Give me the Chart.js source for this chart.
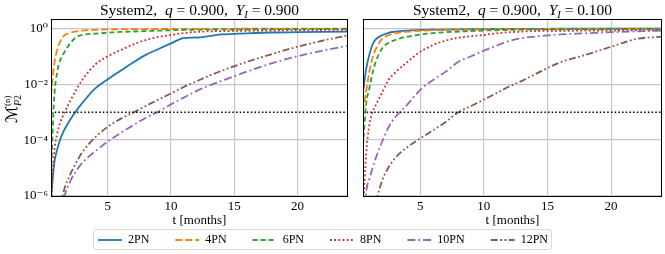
<!DOCTYPE html>
<html>
<head>
<meta charset="utf-8">
<script src="https://cdn.jsdelivr.net/npm/chart.js@4.4.0/dist/chart.umd.min.js"></script>
<style>
  html, body { margin: 0; padding: 0; background: #fff; }
  #page { position: relative; width: 665px; height: 254px; overflow: hidden; background: #fff; }
  .box { position: absolute; top: 0; height: 228px; }
  #leftBox { left: 0; width: 352px; }
  #rightBox { left: 352px; width: 313px; }
  #legendBox { position: absolute; left: 93px; top: 229px; width: 459px; height: 21px; box-sizing: border-box;
    border: 1px solid #dadada; border-radius: 3px; overflow: hidden; background: #fff; }
  #legendInner { position: absolute; left: -71.5px; top: -22.5px; width: 600px; height: 80px; }
</style>
</head>
<body>
<div id="page">
  <div class="box" id="leftBox"><canvas id="leftChart"></canvas></div>
  <div class="box" id="rightBox"><canvas id="rightChart"></canvas></div>
  <div id="legendBox"><div id="legendInner"><canvas id="legendChart"></canvas></div></div>
</div>
<script>
// time grid (months) and log10 of M_P2
const months = [0.5, 0.75, 1, 1.25, 1.5, 2, 2.5, 3, 4, 5, 6, 7, 8, 9, 10, 11, 12, 13, 14, 16, 18, 20, 22, 24];

// left panel: q = 0.900, Y_I = 0.900
const left2PN  = [-6.1, -4.85, -4.32, -3.95, -3.68, -3.28, -2.95, -2.66, -2.15, -1.82, -1.52, -1.22, -0.95, -0.74, -0.54, -0.35, -0.33, -0.28, -0.22, -0.18, -0.15, -0.14, -0.13, -0.12];
const left4PN  = [-2.4, -1.3, -0.75, -0.45, -0.28, -0.16, -0.11, -0.08, -0.06, -0.04, -0.035, -0.03, -0.03, -0.025, -0.025, -0.02, -0.02, -0.02, -0.02, -0.015, -0.015, -0.01, -0.01, -0.01];
const left6PN  = [-5.2, -2.5, -1.55, -1.12, -0.9, -0.55, -0.32, -0.24, -0.19, -0.16, -0.13, -0.115, -0.1, -0.085, -0.07, -0.06, -0.05, -0.045, -0.04, -0.035, -0.03, -0.025, -0.02, -0.02];
const left8PN  = [-6.3, -4.45, -3.75, -3.35, -3.08, -2.62, -2.2, -1.83, -1.3, -1.0, -0.78, -0.58, -0.42, -0.31, -0.24, -0.17, -0.13, -0.11, -0.1, -0.09, -0.08, -0.07, -0.06, -0.05];
const left10PN = [null, null, null, -7.2, -6.2, -5.5, -5.1, -4.8, -4.4, -4.05, -3.75, -3.47, -3.2, -2.98, -2.72, -2.48, -2.25, -2.05, -1.88, -1.55, -1.25, -1.0, -0.8, -0.62];
const left12PN = [null, null, null, -6.5, -5.85, -5.25, -4.8, -4.42, -3.9, -3.52, -3.24, -3.02, -2.78, -2.55, -2.33, -2.1, -1.9, -1.7, -1.52, -1.2, -0.92, -0.66, -0.44, -0.25];

// right panel: q = 0.900, Y_I = 0.100
const right2PN  = [-2.3, -1.45, -0.95, -0.58, -0.4, -0.25, -0.16, -0.12, -0.08, -0.06, -0.05, -0.045, -0.04, -0.035, -0.03, -0.025, -0.02, -0.02, -0.02, -0.015, -0.015, -0.01, -0.01, -0.01];
const right4PN  = [-3.0, -2.25, -1.56, -1.05, -0.75, -0.38, -0.25, -0.18, -0.12, -0.09, -0.07, -0.06, -0.05, -0.045, -0.04, -0.035, -0.03, -0.03, -0.025, -0.02, -0.02, -0.015, -0.015, -0.01];
const right6PN  = [-4.2, -2.7, -2.15, -1.6, -1.2, -0.72, -0.52, -0.42, -0.3, -0.22, -0.17, -0.14, -0.12, -0.1, -0.08, -0.07, -0.06, -0.05, -0.04, -0.035, -0.03, -0.025, -0.02, -0.02];
const right8PN  = [-6.5, -4.5, -3.45, -3.0, -2.75, -2.3, -1.85, -1.6, -1.2, -0.84, -0.6, -0.44, -0.34, -0.28, -0.24, -0.18, -0.14, -0.12, -0.1, -0.09, -0.085, -0.08, -0.075, -0.07];
const right10PN = [-7.5, -5.85, -5.4, -5.0, -4.65, -4.06, -3.55, -3.2, -2.72, -2.2, -1.85, -1.55, -1.2, -1.0, -0.8, -0.62, -0.45, -0.35, -0.3, -0.22, -0.18, -0.14, -0.11, -0.08];
const right12PN = [null, null, null, -7.0, -6.3, -5.45, -4.98, -4.65, -4.25, -3.94, -3.65, -3.35, -3.0, -2.78, -2.55, -2.32, -2.08, -1.88, -1.65, -1.22, -0.95, -0.66, -0.38, -0.3];

const seriesLabels = ["2PN", "4PN", "6PN", "8PN", "10PN", "12PN"];
const panelYI = ["0.900", "0.100"];
const panelQ = "0.900";
const threshold = 1e-3;
const xRange = [0.5, 24];
const xTickValues = [5, 10, 15, 20];
const yTickValues = [1e-6, 1e-4, 1e-2, 1];
const yTickLabels = ["10\u207B\u2076", "10\u207B\u2074", "10\u207B\u00B2", "10\u2070"];

// styles
const FONT = "'Liberation Serif', 'Times New Roman', 'DejaVu Serif', serif";
const seriesColors = ["#1f77b4", "#ff7f0e", "#2ca02c", "#d62728", "#9467bd", "#8c564b"];
const seriesDashes = [[], [7, 3], [5, 3], [1.8, 2.4], [8, 3, 1.8, 3], [7, 2.5, 1.8, 2.5, 1.8, 2.5]];
const gridColor = "#c8c8c8";

function toPoints(exps) {
  return months.map((t, i) => ({ x: t, y: exps[i] === null ? null : Math.pow(10, exps[i]) }));
}

// draws a run of text pieces (normal / italic / sub / sup) centred on cx
function drawRich(ctx, parts, cx, y) {
  let w = 0;
  parts.forEach(p => {
    ctx.font = (p.italic ? "italic " : "") + p.size + "px " + (p.family || FONT);
    p.w = ctx.measureText(p.text).width;
    if (!p.stack) w += p.w;
  });
  let x = cx - w / 2;
  let lastX = x;
  parts.forEach(p => {
    ctx.font = (p.italic ? "italic " : "") + p.size + "px " + (p.family || FONT);
    const px = p.stack ? lastX : x;
    ctx.fillText(p.text, px, y + (p.dy || 0));
    if (!p.stack) { lastX = x; x += p.w; }
  });
}

const framePlugin = {
  id: "frame",
  afterDraw(chart) {
    const { ctx, chartArea: a } = chart;
    ctx.save();
    ctx.strokeStyle = "#000";
    ctx.lineWidth = 1;
    ctx.strokeRect(Math.round(a.left) + 0.5, Math.round(a.top) + 0.5, Math.round(a.right - a.left) - 1, Math.round(a.bottom - a.top));
    ctx.restore();
  }
};

function titlePlugin(yI) {
  return {
    id: "panelTitle",
    afterDraw(chart) {
      const { ctx, chartArea: a } = chart;
      ctx.save();
      ctx.fillStyle = "#000";
      ctx.textBaseline = "alphabetic";
      ctx.textAlign = "left";
      drawRich(ctx, [
        { text: "System2,  ", size: 15.5 },
        { text: "q", size: 15.5, italic: true },
        { text: " = " + panelQ + ",  ", size: 15.5 },
        { text: "Y", size: 15.5, italic: true },
        { text: "I", size: 10.5, italic: true, dy: 3 },
        { text: " = " + yI, size: 15.5 }
      ], (a.left + a.right) / 2, 14.5);
      ctx.restore();
    }
  };
}

const yLabelPlugin = {
  id: "yLabel",
  afterDraw(chart) {
    const { ctx } = chart;
    ctx.save();
    ctx.fillStyle = "#000";
    ctx.textAlign = "left";
    ctx.translate(17, 109);
    ctx.rotate(-Math.PI / 2);
    drawRich(ctx, [
      { text: "\u2133", size: 16, family: "'DejaVu Serif', 'DejaVu Sans', serif" },
      { text: "P", size: 10, italic: true, dy: 3.5 },
      { text: "(n)", size: 9, dy: -7, stack: true },
      { text: "2", size: 10, dy: 3.5 }
    ], 0, 0);
    ctx.restore();
  }
};

function makePanel(canvasId, exps, yI, isLeft) {
  const datasets = seriesLabels.map((lab, i) => ({
    label: lab,
    data: toPoints(exps[i]),
    borderColor: seriesColors[i],
    borderDash: seriesDashes[i],
    borderWidth: 1.8,
    pointRadius: 0,
    fill: false,
    cubicInterpolationMode: "monotone",
    order: seriesLabels.length - i
  }));
  datasets.push({
    label: "threshold",
    data: [{ x: xRange[0], y: threshold }, { x: xRange[1], y: threshold }],
    borderColor: "#000",
    borderWidth: 1.5,
    borderDash: [1.5, 2.2],
    pointRadius: 0,
    fill: false,
    order: 0
  });

  const plugins = [framePlugin, titlePlugin(yI)];
  if (isLeft) plugins.push(yLabelPlugin);

  return new Chart(document.getElementById(canvasId), {
    type: "line",
    data: { datasets },
    plugins,
    options: {
      responsive: true,
      maintainAspectRatio: false,
      animation: false,
      layout: { padding: { top: 19, right: isLeft ? 4 : 3, left: 0, bottom: 0 } },
      plugins: { legend: { display: false }, tooltip: { enabled: false } },
      scales: {
        x: {
          type: "linear",
          min: xRange[0],
          max: xRange[1],
          afterBuildTicks: (s) => { s.ticks = xTickValues.map(v => ({ value: v })); },
          afterFit: (s) => { s.height = 32; },
          grid: { color: gridColor, lineWidth: 1.2, drawTicks: false },
          border: { display: false },
          ticks: {
            font: { family: FONT, size: 13 },
            color: "#000",
            padding: 3,
            maxRotation: 0,
            autoSkip: false,
            callback: (v) => String(v)
          },
          title: {
            display: true,
            text: "t [months]",
            font: { family: FONT, size: 13 },
            color: "#000",
            padding: { top: 0, bottom: 0 }
          }
        },
        y: {
          type: "logarithmic",
          min: 1e-6,
          max: 2.15,
          afterBuildTicks: (s) => { s.ticks = yTickValues.map(v => ({ value: v })); },
          afterFit: (s) => { s.width = isLeft ? 51 : 11; },
          grid: { color: gridColor, lineWidth: 1.2, drawTicks: false },
          border: { display: false },
          ticks: {
            display: isLeft,
            font: { family: FONT, size: 13 },
            color: "#000",
            padding: 3,
            autoSkip: false,
            callback: (v, i) => yTickLabels[i]
          }
        }
      }
    }
  });
}

makePanel("leftChart", [left2PN, left4PN, left6PN, left8PN, left10PN, left12PN], panelYI[0], true);
makePanel("rightChart", [right2PN, right4PN, right6PN, right8PN, right10PN, right12PN], panelYI[1], false);

// shared legend under both panels
new Chart(document.getElementById("legendChart"), {
  type: "line",
  data: {
    datasets: seriesLabels.map((lab, i) => ({
      label: lab,
      data: [],
      borderColor: seriesColors[i],
      backgroundColor: seriesColors[i],
      borderDash: seriesDashes[i],
      borderWidth: 1.8
    }))
  },
  options: {
    responsive: true,
    maintainAspectRatio: false,
    animation: false,
    layout: { padding: 0 },
    scales: { x: { display: false }, y: { display: false } },
    plugins: {
      tooltip: { enabled: false },
      legend: {
        display: true,
        position: "top",
        align: "center",
        labels: {
          usePointStyle: true,
          pointStyle: "line",
          pointStyleWidth: 24,
          boxHeight: 12,
          font: { family: FONT, size: 12 },
          color: "#000",
          padding: 26,
          generateLabels: (chart) => Chart.defaults.plugins.legend.labels.generateLabels(chart).map((item, i) => ({
            ...item,
            lineDash: seriesDashes[i],
            lineWidth: 1.8,
            strokeStyle: seriesColors[i]
          }))
        }
      }
    }
  }
});
</script>
</body>
</html>
